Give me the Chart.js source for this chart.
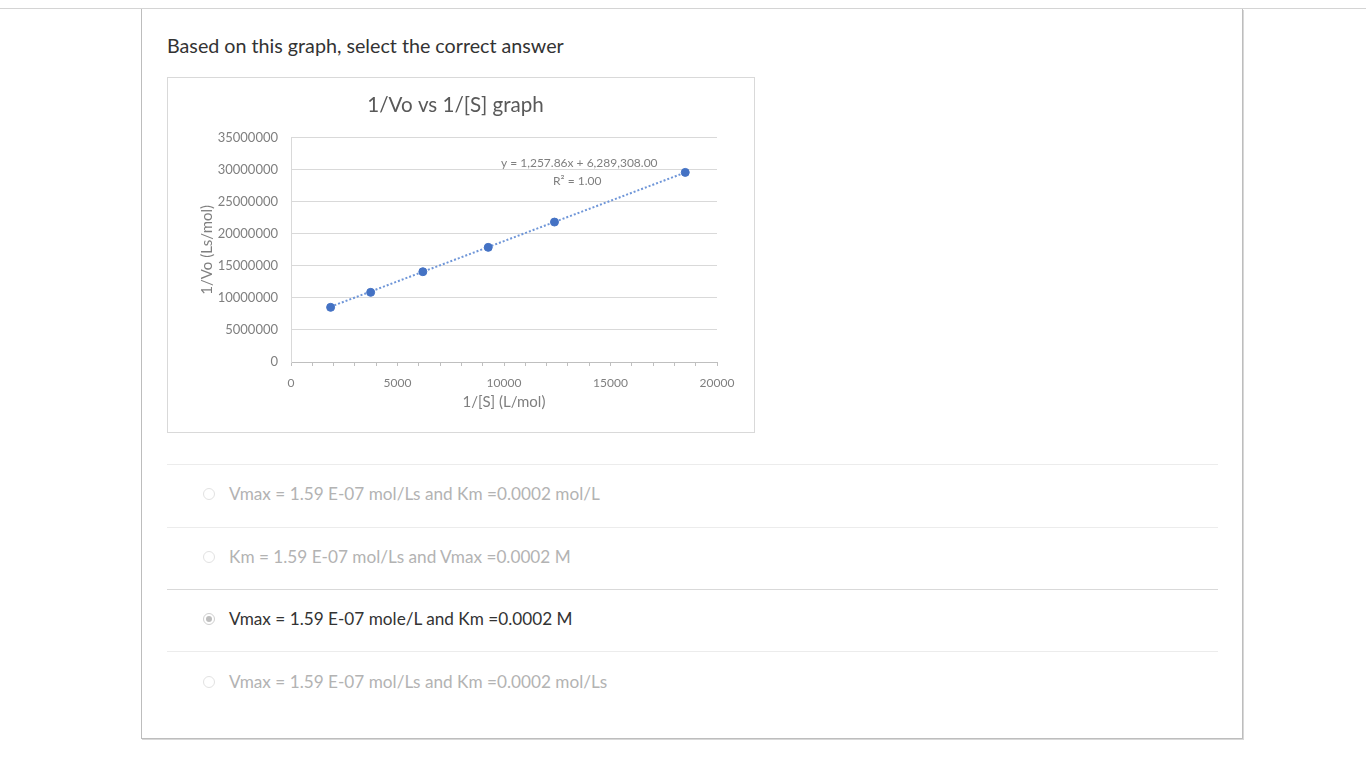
<!DOCTYPE html>
<html><head><meta charset="utf-8">
<script src="https://cdn.jsdelivr.net/npm/chart.js@4.4.1/dist/chart.umd.min.js"></script>
<style>
html,body{margin:0;padding:0;background:#fff}
body{width:1366px;height:768px;position:relative;overflow:hidden;font-family:Lato,"Open Sans",sans-serif}
.topline{position:absolute;left:0;top:8px;width:1366px;height:1px;background:#d4d4d4}
.panel{position:absolute;left:141px;top:9px;width:1100px;height:729px;border:1px solid #bdbdbd;border-top:none;box-shadow:1px 1px 0 #d8d8d8}
.q{position:absolute;left:167px;top:34px;font-size:19.7px;color:#333;white-space:nowrap}
.chartbox{position:absolute;left:167px;top:77px;width:586px;height:354px;border:1px solid #d9d9d9;background:#fff}
.sep{position:absolute;left:167px;width:1051px;height:1px;background:#ececec}
.opt{position:absolute;left:229px;font-size:17.2px;color:#b3b3b3;white-space:nowrap;line-height:20px}
.opt.sel{color:#333}
.radio{position:absolute;left:203px;width:12px;height:12px;border:1px solid #e2e2e2;border-radius:50%;box-sizing:border-box;background:#fff}
.radio.sel{border-color:#cfcfcf}
.radio.sel::after{content:"";position:absolute;left:2px;top:2px;width:6px;height:6px;border-radius:50%;background:#bdbdbd}
</style></head>
<body>
<div class="topline"></div>
<div class="panel"></div>
<div class="q">Based on this graph, select the correct answer</div>
<div class="chartbox"><canvas id="c"></canvas></div>

<div class="sep" style="top:464px"></div>
<div class="radio" style="top:488px"></div>
<div class="opt" style="top:484px">Vmax = 1.59 E-07 mol/Ls and Km =0.0002 mol/L</div>
<div class="sep" style="top:527px"></div>
<div class="radio" style="top:551px"></div>
<div class="opt" style="top:547px">Km = 1.59 E-07 mol/Ls and Vmax =0.0002 M</div>
<div class="sep" style="top:589px;background:#d9d9d9"></div>
<div class="radio sel" style="top:613px"></div>
<div class="opt sel" style="top:609px">Vmax = 1.59 E-07 mole/L and Km =0.0002 M</div>
<div class="sep" style="top:651px"></div>
<div class="radio" style="top:676px"></div>
<div class="opt" style="top:672px">Vmax = 1.59 E-07 mol/Ls and Km =0.0002 mol/Ls</div>

<script>
const chartTitle = '1/Vo vs 1/[S] graph';
const xAxisTitle = '1/[S] (L/mol)';
const yAxisTitle = '1/Vo (Ls/mol)';
const invS = [1860, 3740, 6190, 9260, 12370, 18510];
const invV0 = [8530000, 10870000, 14090000, 17890000, 21840000, 29590000];
const trendSlope = 1257.86;
const trendIntercept = 6289308.00;
const trendLabel = ['y = 1,257.86x + 6,289,308.00', 'R\u00B2 = 1.00'];
const xTickLabels = [0, 5000, 10000, 15000, 20000];
const yTickLabels = [0, 5000000, 10000000, 15000000, 20000000, 25000000, 30000000, 35000000];

const points = invS.map((x, i) => ({x: x, y: invV0[i]}));
const xMin = Math.min(...invS), xMax = Math.max(...invS);
const trend = [xMin, xMax].map(x => ({x: x, y: trendSlope * x + trendIntercept}));

const font = "Lato, 'Open Sans', sans-serif";
const txt = '#7f7f7f';

const trendLabelPlugin = {
  id: 'trendLabel',
  afterDatasetsDraw(chart) {
    const meta = chart.getDatasetMeta(0);
    const last = meta.data[meta.data.length - 1];
    const ctx = chart.ctx;
    ctx.save();
    ctx.fillStyle = '#7f7f7f';
    ctx.font = "12px " + font;
    ctx.textAlign = 'center';
    ctx.textBaseline = 'middle';
    ctx.fillText(trendLabel[0], last.x - 106, last.y - 9);
    ctx.fillText(trendLabel[1], last.x - 108, last.y + 9);
    ctx.restore();
  }
};

new Chart(document.getElementById('c'), {
  type: 'scatter',
  data: {
    datasets: [
      {data: points, backgroundColor: '#4472C4', borderColor: '#4472C4', pointRadius: 4, pointHoverRadius: 4, order: 1},
      {type: 'line', data: trend, borderColor: '#6f96d8', borderWidth: 2, borderDash: [2, 2], pointRadius: 0, fill: false, order: 2}
    ]
  },
  options: {
    responsive: true,
    maintainAspectRatio: false,
    animation: false,
    layout: {padding: {left: 26, right: 37, top: 0, bottom: 17}},
    plugins: {
      legend: {display: false},
      tooltip: {enabled: false},
      title: {display: true, text: chartTitle, color: '#595959', font: {family: font, size: 20.6, weight: 'normal'}, padding: {top: 15, bottom: 20}}
    },
    scales: {
      x: {
        type: 'linear', min: 0, max: 20000,
        afterFit(s) { s.height = 53; },
        afterBuildTicks(s) { s.ticks = []; for (let v = 0; v <= 20000; v += 1000) s.ticks.push({value: v}); },
        ticks: {autoSkip: false, maxRotation: 0, color: txt, font: {family: font, size: 12}, padding: 10,
          callback: v => xTickLabels.includes(v) ? String(v) : ''},
        grid: {drawOnChartArea: false, drawTicks: true, tickLength: 4, color: '#bfbfbf'},
        border: {color: '#bfbfbf'},
        title: {display: true, text: xAxisTitle, color: txt, font: {family: font, size: 15}, padding: {top: 4}}
      },
      y: {
        type: 'linear', min: 0, max: 35000000,
        afterFit(s) { s.width = 97; },
        afterBuildTicks(s) { s.ticks = yTickLabels.map(v => ({value: v})); },
        ticks: {color: txt, font: {family: font, size: 13}, padding: 13, callback: v => String(v)},
        grid: {color: '#d9d9d9', drawTicks: false},
        border: {color: '#d9d9d9'},
        title: {display: true, text: yAxisTitle, color: txt, font: {family: font, size: 15}, padding: {bottom: 4}}
      }
    }
  },
  plugins: [trendLabelPlugin]
});
</script>
</body></html>
